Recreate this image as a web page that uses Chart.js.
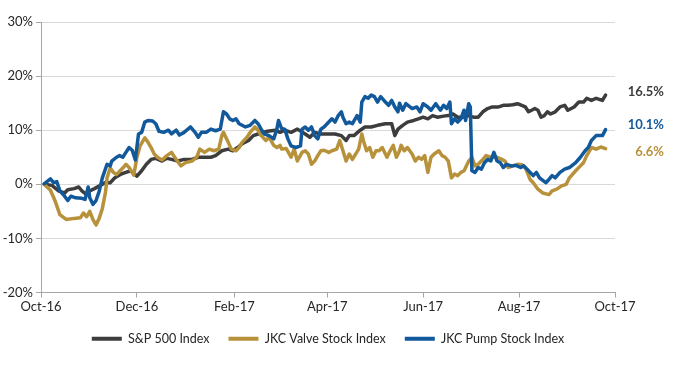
<!DOCTYPE html>
<html><head><meta charset="utf-8">
<script src="https://cdn.jsdelivr.net/npm/chart.js@4/dist/chart.umd.min.js"></script>
<style>html,body{margin:0;padding:0;background:#fff;}#wrap{width:700px;height:365px;position:relative;}</style>
</head><body><div id="wrap"><canvas id="c" width="700" height="365"></canvas></div>
<script>
// Day offsets from 1 Oct 2016
const tickDays = [0, 61, 123, 182, 243, 304, 365];
const tickLabels = ['Oct-16', 'Dec-16', 'Feb-17', 'Apr-17', 'Jun-17', 'Aug-17', 'Oct-17'];
const seriesNames = ['S&P 500 Index', 'JKC Valve Stock Index', 'JKC Pump Stock Index'];
const endLabels = ['16.5%', '6.6%', '10.1%'];

const spDays = [2,7,11,15,17,21,24,26,29,31,34,37,41,44,47,51,54,57,61,64,67,70,73,77,80,83,87,91,96,100,104,108,111,115,119,122,125,128,132,135,138,141,144,149,152,155,159,163,168,171,174,178,182,187,191,194,196,199,203,206,210,214,219,223,225,227,230,233,237,240,243,246,249,252,256,259,262,265,268,272,275,278,281,284,287,291,294,297,300,303,308,310,312,314,316,318,320,322,324,327,330,333,335,339,342,345,347,350,353,357,359];
const spVals = [0,-0.2,-1.2,-1.6,-1.0,-0.8,-0.5,-1.2,-1.9,-1.2,-0.8,-0.3,0.3,0.3,1.2,1.9,2.2,2.5,1.5,2.5,3.7,4.6,4.8,4.3,4.8,4.6,4.3,4.6,4.6,5.0,5.0,5.0,5.3,6.2,6.5,6.2,6.8,7.5,8.1,9.0,9.3,9.6,9.8,10.0,9.6,10.0,9.6,10.2,9.3,8.7,9.6,9.3,9.3,9.3,9.0,8.1,9.0,9.0,10.0,10.6,10.6,10.9,11.2,11.2,9.0,10.2,10.9,11.5,11.8,12.1,12.4,12.1,12.7,12.4,12.6,12.7,13.0,12.4,12.4,12.7,12.4,12.4,13.4,14.0,14.3,14.3,14.6,14.6,14.7,14.9,14.3,13.4,13.7,14.0,13.7,12.4,12.7,13.4,13.0,13.4,14.3,14.6,13.7,14.3,15.2,15.2,15.9,15.5,15.9,15.5,16.5];

const valveDays = [2,6,9,12,16,21,25,27,29,31,33,35,37,39,41,42,44,46,48,50,52,54,56,59,61,63,66,68,70,72,74,77,80,83,86,89,92,96,99,101,104,107,110,113,115,116,119,121,124,126,128,131,133,136,138,140,143,145,148,150,152,153,156,159,161,163,166,168,170,172,174,176,178,180,183,185,188,190,192,194,196,198,202,204,205,207,209,211,213,215,217,220,222,224,226,228,229,231,233,236,238,240,242,244,246,248,250,253,255,257,259,261,263,265,267,269,272,274,276,278,281,283,286,290,293,295,297,300,303,306,308,311,313,316,319,323,325,328,331,334,336,340,343,345,347,350,353,356,359];
const valveVals = [0,-1.1,-3.1,-5.6,-6.5,-6.3,-6.2,-5.3,-6.0,-5.0,-6.5,-7.5,-6.3,-4.5,-1.5,1.2,3.0,2.2,1.8,2.4,3.0,3.7,3.1,1.7,5.0,7.1,8.6,7.8,6.8,5.6,5.0,4.5,5.3,5.9,4.6,3.4,4.0,4.3,5.0,6.5,5.9,6.5,6.2,6.5,9.0,9.6,7.8,6.5,6.2,6.8,7.8,8.7,9.6,10.6,10.0,9.0,8.1,8.7,7.2,6.8,7.2,6.5,6.6,5.0,6.5,4.3,5.9,6.2,5.6,3.7,4.3,5.3,6.2,6.3,5.9,6.2,6.5,8.1,6.2,4.3,5.6,4.6,6.5,9.3,8.1,6.2,6.8,5.0,6.2,6.2,6.8,5.0,6.2,7.2,5.0,6.2,7.2,6.2,6.8,5.6,4.3,5.0,4.6,5.3,2.2,5.0,5.6,6.2,5.3,5.0,4.3,1.2,1.9,1.6,2.2,2.5,4.3,5.0,3.4,3.7,4.6,5.3,5.0,5.0,4.6,4.3,3.1,3.4,3.7,3.6,3.1,0.9,0.3,-0.9,-1.6,-1.9,-1.2,-0.9,-0.3,0,1.2,2.5,3.4,4.0,5.3,6.8,6.5,6.9,6.6];

const pumpDays = [2,6,8,10,12,15,17,19,22,26,28,30,31,33,35,37,39,42,44,45,48,50,52,54,56,58,60,62,64,66,68,71,73,75,78,81,83,86,88,91,95,98,100,102,105,108,111,114,116,118,120,122,124,126,130,133,136,138,140,142,145,148,150,151,153,155,157,159,162,165,166,168,170,172,174,176,178,180,183,185,187,189,191,192,194,196,198,201,203,204,206,208,210,212,214,216,219,221,223,225,227,228,230,232,236,239,241,243,246,248,251,254,256,258,260,261,263,265,267,269,270,272,273,274,276,278,280,282,284,286,288,290,292,294,296,299,302,305,307,310,313,315,317,321,323,325,327,330,333,336,340,343,346,348,350,353,357,359];
const pumpVals = [0.1,1.0,0.3,0.5,-1.2,-2.2,-3.0,-2.2,-2.5,-2.6,-2.8,-0.5,-2.5,-3.7,-3.0,-1.3,1.2,3.7,3.4,4.3,5.0,5.3,5.0,5.9,6.8,6.3,4.5,9.3,9.6,11.5,11.8,11.7,11.2,9.8,9.6,10.0,9.3,10.0,9.1,9.6,10.6,9.6,8.7,9.6,9.6,10.2,9.9,10.2,13.4,13.0,12.1,11.8,12.1,11.2,10.6,10.9,11.8,11.2,10.2,9.3,9.0,8.4,10.2,11.8,10.3,10.2,8.4,7.1,6.8,7.1,10.2,10.6,10.0,10.6,9.0,8.4,10.2,10.6,11.5,12.1,11.5,12.7,13.4,12.4,11.2,11.5,11.2,12.7,11.5,15.2,16.2,15.9,16.5,16.2,15.2,16.2,15.2,14.6,15.5,14.3,13.4,15.0,13.7,14.9,14.0,14.3,13.4,14.9,14.3,13.7,14.9,13.7,14.6,14.0,15.2,11.2,12.1,11.5,12.1,13.7,11.8,14.9,14.3,2.5,2.2,3.1,2.8,4.0,4.6,4.3,5.9,4.3,4.0,3.1,3.7,3.4,3.5,3.1,3.4,2.5,1.6,2.2,1.2,0.3,0.9,1.6,1.2,2.2,2.8,3.1,4.0,5.0,6.2,6.8,8.1,9.0,9.0,10.1];

const colors = ['#3d3d3d', '#b8913b', '#12599c'];
const endOffsets = [-3, 3, -5];

function pts(days, vals) { return days.map((d, i) => ({ x: d, y: vals[i] })); }

const FONT = 'Lato, "Open Sans", sans-serif';

const endLabelPlugin = {
  id: 'endLabels',
  afterDatasetsDraw(chart) {
    const ctx = chart.ctx, ys = chart.scales.y;
    ctx.save();
    ctx.font = 'bold 13px ' + FONT;
    ctx.textAlign = 'right';
    ctx.textBaseline = 'middle';
    chart.data.datasets.forEach((ds, i) => {
      const last = ds.data[ds.data.length - 1].y;
      ctx.fillStyle = colors[i];
      ctx.fillText(endLabels[i], chart.chartArea.right + 49, ys.getPixelForValue(last) + endOffsets[i]);
    });
    ctx.restore();
  }
};

const series = [pts(spDays, spVals), pts(valveDays, valveVals), pts(pumpDays, pumpVals)];

new Chart(document.getElementById('c'), {
  type: 'line',
  data: {
    datasets: series.map((d, i) => ({
      label: seriesNames[i],
      data: d,
      borderColor: colors[i],
      backgroundColor: colors[i],
      borderWidth: 3.5,
      pointRadius: 0,
      tension: 0,
      borderJoinStyle: 'round',
      borderCapStyle: 'round',
      order: 3 - i
    }))
  },
  options: {
    responsive: false,
    animation: false,
    devicePixelRatio: 1,
    layout: { padding: { top: 22, right: 85, left: 0, bottom: 10 } },
    plugins: {
      tooltip: { enabled: false },
      legend: {
        position: 'bottom',
        fullSize: false,
        labels: {
          boxWidth: 30,
          boxHeight: 4,
          padding: 19,
          color: '#262626',
          font: { family: FONT, size: 12.5 },
          sort: (a, b) => a.datasetIndex - b.datasetIndex,
          generateLabels: (chart) => Chart.defaults.plugins.legend.labels.generateLabels(chart).map(l => Object.assign(l, { lineWidth: 0 }))
        }
      }
    },
    scales: {
      x: {
        type: 'linear',
        min: 0, max: 365,
        afterBuildTicks: (s) => { s.ticks = tickDays.map(v => ({ value: v })); },
        afterFit: (s) => { s.height = 21; },
        ticks: {
          autoSkip: false, maxRotation: 0, padding: 2,
          color: '#262626', font: { family: FONT, size: 13 },
          callback: (v) => { const k = tickDays.indexOf(v); return k >= 0 ? tickLabels[k] : ''; }
        },
        grid: { drawOnChartArea: false, tickLength: 5, tickColor: '#a6a6a6' },
        border: { color: '#a6a6a6', width: 1 }
      },
      y: {
        min: -20, max: 30,
        afterFit: (s) => { s.width = 41; },
        ticks: {
          stepSize: 10, padding: 3,
          color: '#262626', font: { family: FONT, size: 13 },
          callback: (v) => v + '%'
        },
        grid: { color: '#d9d9d9', tickLength: 5, tickColor: '#a6a6a6' },
        border: { color: '#a6a6a6', width: 1 }
      }
    }
  },
  plugins: [endLabelPlugin]
});
</script>
</body></html>
